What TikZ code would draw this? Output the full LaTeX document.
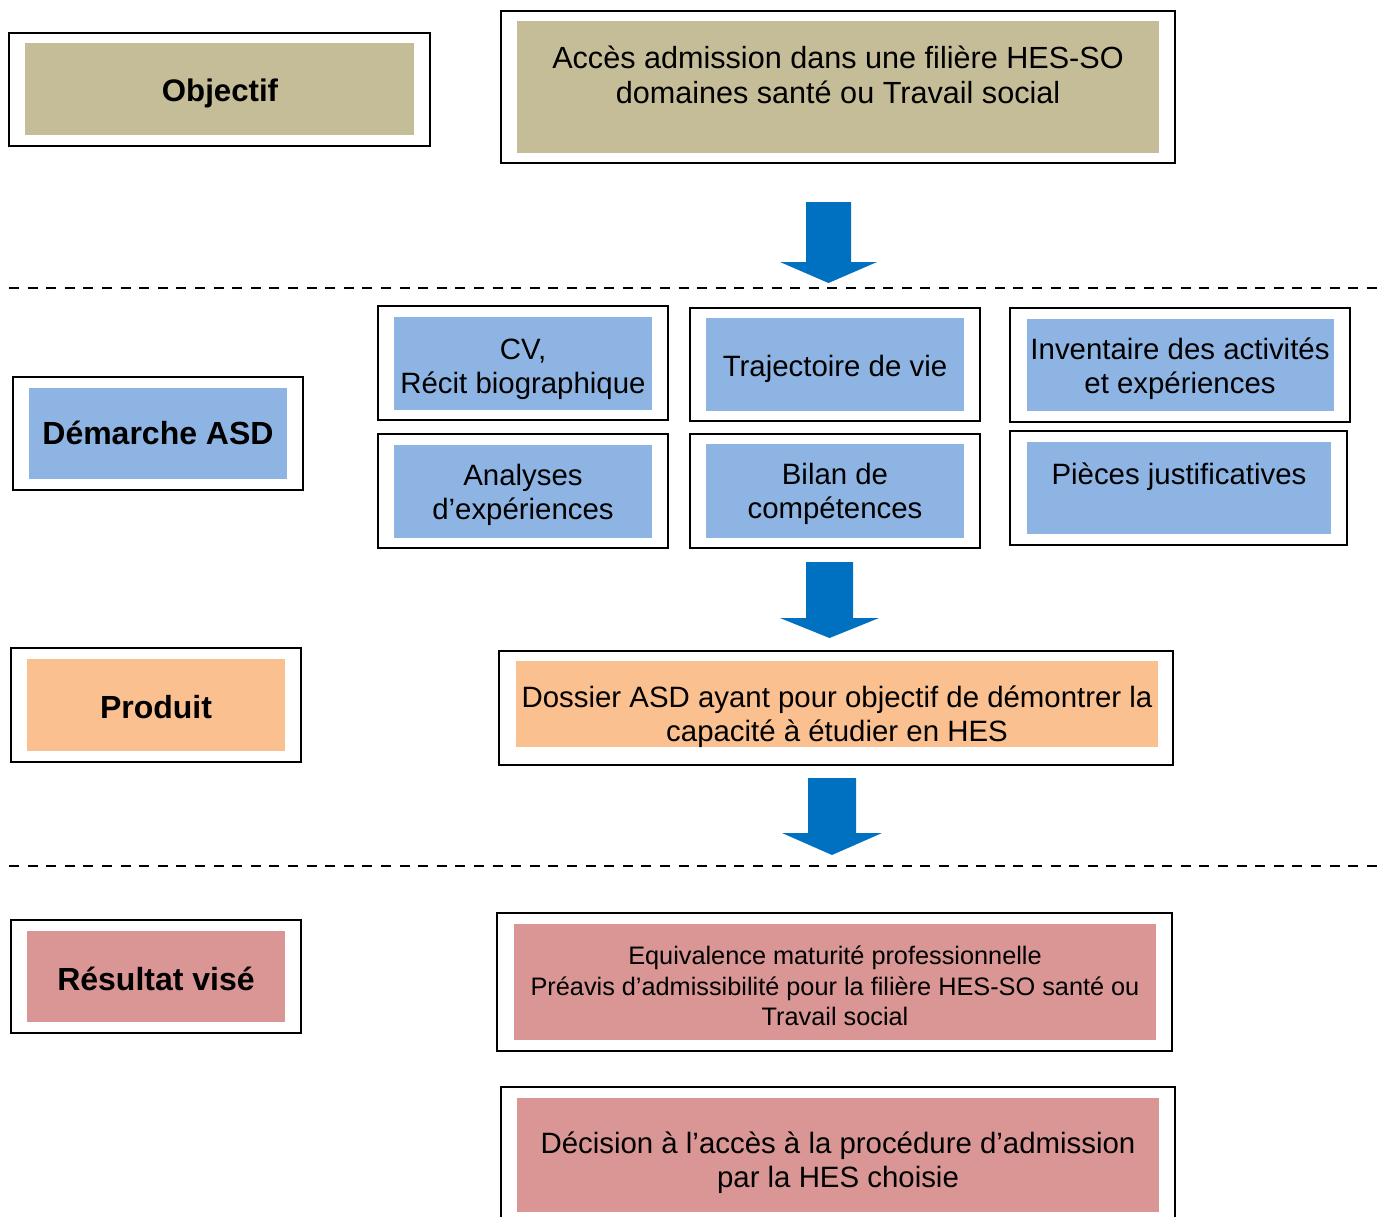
\documentclass[tikz,border=0pt]{standalone}
\usepackage{fontspec}
\setmainfont{Liberation Sans}
\usetikzlibrary{fit}
\definecolor{tan}{HTML}{C4BD97}
\definecolor{lblue}{HTML}{8EB4E3}
\definecolor{peach}{HTML}{FAC090}
\definecolor{rose}{HTML}{D99694}
\definecolor{arrblue}{HTML}{0070C0}
\tikzset{
  frame/.style={draw=black, line width=1pt, inner sep=0pt, fill=white},
  inbox/.style={inner sep=0pt, draw=none},
  txt/.style={align=center, inner sep=0pt, font=\fontsize{14.7}{17.2}\selectfont},
  bigtxt/.style={align=center, inner sep=0pt, font=\fontsize{15.3}{17.2}\selectfont},
  small/.style={align=center, inner sep=0pt, font=\fontsize{12.65}{15.3}\selectfont},
  lbl/.style={inner sep=0pt, font=\fontsize{16}{18}\selectfont\bfseries},
  sep/.style={line width=1.3pt, dash pattern=on 5pt off 4.3pt},
  blockarrow/.style={fill=arrblue, draw=none}
}
\newcommand{\barrow}[6]{% name, shaft left, shaft right, top, shaft bottom, tip
  \coordinate (#1) at ({(#2+#3)/2},#6);
  \fill[blockarrow] (#2,#4) -- (#3,#4) -- (#3,#5) -- ({#3+26},#5) -- (#1) -- ({#2-26},#5) -- (#2,#5) -- cycle;
}
\begin{document}
\begin{tikzpicture}[x=0.5pt,y=-0.5pt]
\useasboundingbox (0,0) rectangle (1387,1216);

% Objectif row
\node[frame, fit={(9,33)(430,146)}] (obj) {};
\node[inbox, fill=tan, fit={(25,43)(414,135)}] (obj-in) {};
\node[lbl, font=\fontsize{15.6}{18}\selectfont\bfseries] (objt) at (220,93) {Objectif};

\node[frame, fit={(501,11)(1175,163)}] (acc) {};
\node[inbox, fill=tan, fit={(517,21)(1159,153)}] (acc-in) {};
\node[bigtxt] (acct) at (838,75) {Accès admission dans une filière HES-SO\\domaines santé ou Travail social};

\barrow{a1}{806}{851}{202}{262}{283}

\draw[sep] (9,288) -- (1382,288);

% Démarche row
\node[frame, fit={(13,377)(303,490)}] (dem) {};
\node[inbox, fill=lblue, fit={(29,388)(287,479)}] (dem-in) {};
\node[lbl] (demt) at (158,433) {Démarche ASD};

\node[frame, fit={(378,306)(668,420)}] (cv) {};
\node[inbox, fill=lblue, fit={(394,317)(652,410)}] (cv-in) {};
\node[txt] (cvt) at (523,369) {CV,\\Récit biographique};

\node[frame, fit={(690,308)(980,421)}] (traj) {};
\node[inbox, fill=lblue, fit={(706,318)(964,411)}] (traj-in) {};
\node[txt] (trajt) at (835,369) {Trajectoire de vie};

\node[frame, fit={(1010,308)(1350,422)}] (inv) {};
\node[inbox, fill=lblue, fit={(1027,319)(1334,411)}] (inv-in) {};
\node[txt] (invt) at (1180,369) {Inventaire des activités\\et expériences};

\node[frame, fit={(378,434)(668,548)}] (ana) {};
\node[inbox, fill=lblue, fit={(394,445)(652,538)}] (ana-in) {};
\node[txt] (anat) at (523,495) {Analyses\\d’expériences};

\node[frame, fit={(690,434)(980,548)}] (bil) {};
\node[inbox, fill=lblue, fit={(706,444)(964,538)}] (bil-in) {};
\node[txt] (bilt) at (835,494) {Bilan de\\compétences};

\node[frame, fit={(1010,431)(1347,545)}] (pie) {};
\node[inbox, fill=lblue, fit={(1027,442)(1331,534)}] (pie-in) {};
\node[txt] (piet) at (1179,477) {Pièces justificatives};

\barrow{a2}{806}{853}{562}{618}{638}

% Produit row
\node[frame, fit={(11,648)(301,762)}] (pro) {};
\node[inbox, fill=peach, fit={(27,659)(285,751)}] (pro-in) {};
\node[lbl] (prot) at (156,707) {Produit};

\node[frame, fit={(499,651)(1173,765)}] (dos) {};
\node[inbox, fill=peach, fit={(516,661)(1158,747)}] (dos-in) {};
\node[txt] (dost) at (837,717) {Dossier ASD ayant pour objectif de démontrer la\\capacité à étudier en HES};

\barrow{a3}{808}{856}{778}{833}{855}

\draw[sep] (9,866) -- (1382,866);

% Résultat row
\node[frame, fit={(11,920)(301,1033)}] (res) {};
\node[inbox, fill=rose, fit={(27,931)(285,1022)}] (res-in) {};
\node[lbl] (rest) at (156,979) {Résultat visé};

\node[frame, fit={(497,913)(1172,1051)}] (equ) {};
\node[inbox, fill=rose, fit={(514,924)(1156,1040)}] (equ-in) {};
\node[small] (equt) at (835,986) {Equivalence maturité professionnelle\\Préavis d’admissibilité pour la filière HES-SO santé ou\\Travail social};

\node[frame, fit={(501,1087)(1175,1230)}] (dec) {};
\node[inbox, fill=rose, fit={(517,1098)(1159,1212)}] (dec-in) {};
\node[txt] (dect) at (838,1163) {Décision à l’accès à la procédure d’admission\\par la HES choisie};
\end{tikzpicture}
\end{document}
